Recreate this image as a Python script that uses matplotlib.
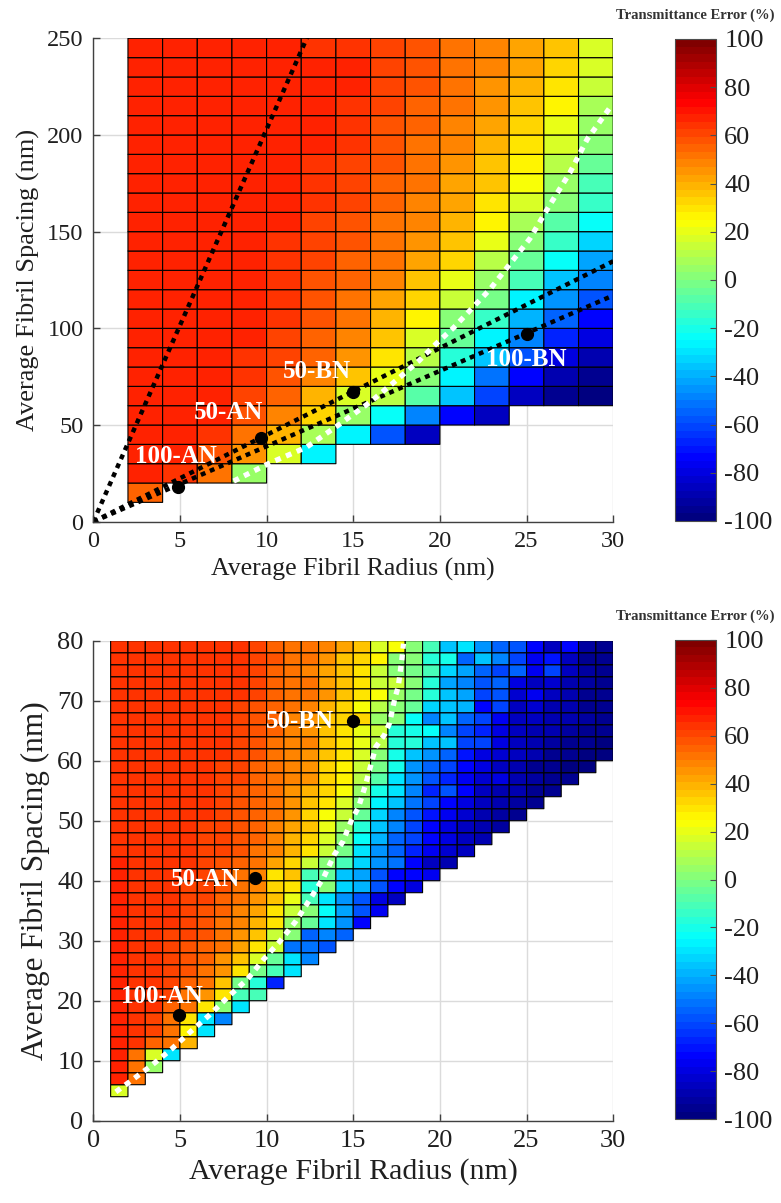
import numpy as np
import matplotlib
import matplotlib.pyplot as plt
from matplotlib.colors import LinearSegmentedColormap

matplotlib.use("Agg")
plt.rcParams['font.family'] = ['Liberation Serif', 'DejaVu Serif']
plt.rcParams['axes.unicode_minus'] = False

nan = np.nan

# ---------- Upper panel: coarse grid (radius step 2 nm, spacing step 10 nm) ----------
top_radius = np.arange(2, 30, 2)          # left edge of each cell column
top_spacing = np.arange(10, 250, 10)      # lower edge of each cell row
# transmittance error (%), one list per spacing row from 10 nm upward
top_error = [
    [56],
    [68, 64, 50, 6],
    [68, 67, 57, 44, 17, -27],
    [68, 67, 63, 50, 38, 7, -27, -59, -85],
    [68, 68, 66, 57, 47, 32, 6, -25, -47, -75, -87],
    [68, 68, 67, 61, 55, 40, 17, 11, -9, -37, -62, -87, -94, -97],
    [68, 68, 67, 64, 57, 48, 36, 20, 3, -28, -52, -74, -88, -94],
    [68, 68, 67, 65, 60, 54, 44, 31, 11, -16, -36, -58, -79, -90],
    [68, 68, 67, 66, 62, 56, 47, 35, 17, -5, -26, -47, -66, -81],
    [68, 68, 68, 66, 63, 57, 51, 40, 25, 3, -14, -40, -56, -72],
    [68, 68, 68, 67, 64, 59, 52, 43, 32, 15, -2, -27, -44, -59],
    [68, 68, 68, 67, 64, 59, 55, 47, 37, 21, 5, -12, -35, -48],
    [68, 68, 68, 67, 65, 60, 56, 50, 41, 32, 12, -4, -25, -42],
    [68, 68, 68, 67, 65, 61, 57, 51, 44, 36, 20, 3, -15, -33],
    [68, 68, 68, 68, 66, 62, 59, 53, 47, 39, 25, 9, -9, -22],
    [68, 68, 68, 68, 66, 64, 61, 54, 48, 42, 31, 16, 0, -15],
    [68, 68, 68, 68, 66, 64, 61, 56, 50, 43, 36, 22, 6, -10],
    [68, 68, 68, 68, 67, 64, 62, 57, 51, 45, 37, 26, 12, -4],
    [68, 68, 68, 68, 67, 66, 63, 59, 53, 47, 40, 31, 16, 2],
    [68, 68, 68, 68, 67, 66, 64, 59, 54, 48, 42, 34, 21, 6],
    [68, 68, 68, 68, 67, 66, 65, 61, 56, 50, 44, 36, 25, 9],
    [68, 68, 68, 68, 67, 66, 66, 62, 57, 51, 45, 39, 30, 13],
    [68, 68, 68, 68, 67, 66, 66, 62, 58, 53, 47, 41, 33, 16],
    [68, 68, 68, 68, 67, 65, 65, 61, 58, 52, 47, 42, 36, 18],
]

# ---------- Lower panel: fine grid (radius step 1 nm, spacing step 2 nm) ----------
bot_radius = np.arange(1, 30, 1)
bot_spacing = np.arange(4, 80, 2)
bot_error = [
    [17],
    [66, 53],
    [66, 53, 6],
    [66, 53, 17, -30],
    [66, 64, 56, 50, 40],
    [66, 65, 62, 50, 25, -31],
    [66, 65, 62, 50, 31, -30, -47],
    [66, 65, 64, 56, 50, 31, 0, -30],
    [66, 65, 64, 60, 50, 44, 31, -12, -12],
    [66, 65, 64, 62, 56, 50, 37, -3, -16, -66],
    [66, 65, 64, 62, 57, 53, 44, 31, -3, -12, -30],
    [66, 65, 64, 62, 58, 55, 46, 37, 16, -6, -31, -47],
    [66, 65, 64, 62, 59, 56, 50, 42, 31, 13, -53, -53, -59],
    [66, 65, 64, 62, 60, 57, 52, 45, 36, 14, 3, -56, -50, -56],
    [66, 65, 64, 63, 61, 58, 53, 47, 40, 31, 6, -6, -31, -44, -75],
    [66, 65, 64, 63, 62, 59, 55, 49, 43, 30, 14, 0, -25, -42, -59, -78],
    [66, 65, 64, 63, 62, 60, 56, 51, 44, 36, 19, -12, -29, -45, -58, -81, -87],
    [66, 65, 64, 64, 62, 60, 57, 52, 48, 33, 31, -16, 2, -33, -40, -57, -75, -81],
    [66, 65, 64, 64, 63, 61, 58, 53, 48, 31, 36, -10, -5, -36, -41, -58, -75, -72, -76],
    [66, 65, 64, 64, 63, 61, 59, 55, 50, 42, 34, 13, 3, -12, -34, -44, -53, -75, -86, -90],
    [65, 65, 64, 64, 63, 62, 60, 57, 53, 47, 38, 31, 13, -3, -30, -44, -56, -66, -78, -84, -87],
    [65, 65, 65, 64, 63, 62, 60, 58, 54, 48, 40, 33, 16, 0, -25, -40, -56, -62, -75, -81, -87, -90],
    [65, 65, 65, 64, 63, 62, 61, 58, 54, 49, 42, 36, 20, 6, -16, -37, -50, -62, -72, -81, -86, -90, -92],
    [65, 65, 65, 64, 64, 63, 61, 59, 55, 50, 44, 34, 22, 13, -6, -34, -47, -59, -69, -78, -84, -89, -92, -94],
    [65, 65, 65, 64, 64, 63, 62, 59, 55, 50, 45, 37, 31, 17, 0, -28, -37, -53, -62, -75, -81, -86, -90, -92,
     -94],
    [65, 65, 65, 65, 64, 63, 62, 59, 56, 51, 46, 40, 33, 22, 6, -19, -31, -47, -66, -59, -75, -87, -89, -90,
     -94, -95],
    [65, 65, 65, 65, 64, 63, 62, 60, 56, 52, 47, 44, 34, 27, 10, -9, -31, -44, -59, -66, -78, -84, -81, -90,
     -92, -94, -95],
    [65, 65, 65, 65, 64, 63, 62, 60, 56, 52, 48, 44, 34, 28, 13, -3, -19, -44, -56, -62, -75, -81, -87, -90,
     -94, -95, -97, -98],
    [65, 65, 65, 65, 64, 63, 63, 60, 57, 53, 48, 44, 37, 31, 17, 3, -19, -37, -44, -56, -69, -81, -84, -87,
     -90, -94, -95, -97, -98],
    [65, 65, 65, 65, 64, 64, 63, 61, 57, 53, 49, 47, 37, 31, 19, 10, -16, -16, -36, -36, -62, -62, -81, -87,
     -89, -92, -94, -95, -97],
    [65, 65, 65, 65, 64, 64, 63, 61, 58, 54, 49, 44, 37, 31, 19, 14, -16, -19, -25, -50, -62, -66, -81, -87,
     -89, -90, -92, -94, -95],
    [65, 65, 65, 65, 64, 64, 63, 62, 58, 54, 49, 44, 37, 33, 34, 6, 0, -25, -47, -36, -56, -62, -78, -87,
     -87, -90, -90, -92, -95],
    [65, 65, 65, 65, 64, 64, 63, 62, 59, 55, 51, 47, 40, 34, 22, 10, 0, -6, -34, -37, -40, -75, -62, -87,
     -84, -90, -90, -94, -95],
    [65, 65, 65, 65, 65, 64, 64, 63, 60, 56, 53, 53, 44, 37, 31, 22, 6, -3, -16, -37, -42, -62, -59, -84,
     -78, -87, -90, -94, -95],
    [65, 65, 65, 65, 65, 64, 64, 63, 60, 56, 53, 51, 42, 36, 31, 13, 13, 3, -16, -42, -47, -59, -56, -81,
     -87, -84, -90, -92, -94],
    [65, 65, 65, 65, 65, 64, 64, 63, 60, 56, 52, 48, 42, 36, 31, 14, 3, -3, -12, -33, -42, -56, -62, -56,
     -78, -62, -87, -92, -94],
    [65, 65, 65, 65, 64, 64, 64, 63, 61, 57, 53, 50, 44, 37, 33, 25, 3, 3, -16, -19, -56, -37, -50, -62,
     -78, -69, -87, -94, -95],
    [65, 65, 65, 65, 64, 64, 64, 63, 61, 56, 53, 50, 47, 42, 36, 17, 22, 3, -12, -36, -31, -44, -56, -59,
     -75, -86, -72, -92, -95],
]

# sample points and labels
top_samples = ['100-AN', '50-AN', '50-BN', '100-BN']
top_sample_r = [4.9, 9.7, 15.0, 25.0]
top_sample_s = [18.1, 43.5, 67.3, 97.3]
bot_samples = ['100-AN', '50-AN', '50-BN']
bot_sample_r = [4.95, 9.33, 15.0]
bot_sample_s = [17.7, 40.4, 66.7]

# spacing/radius ratios of the straight guide lines through the origin
top_ratio_lines = [20.3, 4.49, 3.9]

# zero-error boundaries
top_zero_r = [8.1, 10.1, 12.3, 14.1, 16.0, 17.6, 18.8, 19.8, 20.8, 21.9, 22.9, 24.2, 25.2, 26.3,
              27.5, 28.5, 29.8]
top_zero_s = [21, 30, 38.5, 49.7, 62, 74, 83.3, 92.2, 100.4, 110.8, 120.3, 135.1, 146.5, 163.2,
              180.5, 197.8, 214]
bot_zero_r = [1.3, 2.2, 3.4, 4.5, 5.6, 6.7, 7.8, 8.9, 9.8, 10.8, 11.7, 12.5, 13.3, 13.9, 14.4,
              14.9, 15.3, 15.7, 16.3, 16.8, 17.1, 17.4, 17.6, 17.8, 17.9]
bot_zero_s = [4.8, 6.7, 9.3, 11.9, 14.8, 17.6, 20.7, 23.6, 26.8, 30.0, 33.3, 36.9, 40.6, 44.3, 46.5,
              50.1, 52.2, 55.9, 62.3, 64.3, 66.3, 70.4, 72.4, 76.8, 79.5]


def _matlab_jet(n=64):
    """Classic MATLAB jet (green peak spans 3/8..5/8), sampled to n levels."""
    seg = {
        'red':   [(0.0, 0, 0), (0.375, 0, 0), (0.625, 1, 1), (0.875, 1, 1), (1.0, 0.5, 0.5)],
        'green': [(0.0, 0, 0), (0.125, 0, 0), (0.375, 1, 1), (0.625, 1, 1), (0.875, 0, 0), (1.0, 0, 0)],
        'blue':  [(0.0, 0.5, 0.5), (0.125, 1, 1), (0.375, 1, 1), (0.625, 0, 0), (1.0, 0, 0)],
    }
    return LinearSegmentedColormap('mjet', seg, N=n)


def _to_grid(rows, ncols):
    """Pad ragged rows with NaN and mask the empty cells."""
    grid = np.full((len(rows), ncols), np.nan)
    for i, row in enumerate(rows):
        grid[i, :len(row)] = row
    return np.ma.masked_invalid(grid)


def _edges(lo, step):
    return np.append(lo, lo[-1] + step)


def _style_axes(ax, xlim, ylim, xticks, yticks, tick_fs, xlabel_fs, ylabel_fs):
    ax.set_xlim(*xlim)
    ax.set_ylim(*ylim)
    ax.set_xticks(xticks)
    ax.set_yticks(yticks)
    ax.grid(True, color='0.86', lw=1.0)
    ax.set_axisbelow(True)
    for side in ('top', 'right'):
        ax.spines[side].set_visible(False)
    for side in ('left', 'bottom'):
        ax.spines[side].set_color('0.25')
        ax.spines[side].set_linewidth(1.0)
    ax.tick_params(direction='in', length=5, width=1, color='0.25', labelsize=tick_fs,
                   labelcolor='0.12', pad=7)
    ax.set_xlabel('Average Fibril Radius (nm)', fontsize=xlabel_fs, color='0.12', labelpad=4)
    ax.set_ylabel('Average Fibril Spacing (nm)', fontsize=ylabel_fs, color='0.12', labelpad=5)


def _colorbar(fig, mesh, rect, tick_fs):
    cax = fig.add_axes(rect)
    cb = fig.colorbar(mesh, cax=cax, ticks=np.arange(-100, 101, 20))
    cb.outline.set_edgecolor('0.3')
    cb.outline.set_linewidth(0.8)
    cax.tick_params(direction='in', length=4, color='0.3', labelsize=tick_fs, labelcolor='0.12', pad=6)
    cax.text(0.5, 1.035, 'Transmittance Error (%)', transform=cax.transAxes, ha='center',
             va='bottom', fontsize=10.5, fontweight='bold', color='0.2')
    return cb


cmap = _matlab_jet(64)
W, H = 781, 1203
fig = plt.figure(figsize=(W / 100, H / 100), dpi=100)

# ---------- upper panel ----------
ax1 = fig.add_axes([93.3 / W, 1 - 521.7 / H, 519.9 / W, 483.4 / H])
mesh1 = ax1.pcolor(_edges(top_radius, 2), _edges(top_spacing, 10),
                   _to_grid(top_error, len(top_radius)), cmap=cmap, vmin=-100, vmax=100,
                   edgecolors='k', linewidth=0.8)
_style_axes(ax1, (0, 30), (0, 250), np.arange(0, 31, 5), np.arange(0, 251, 50), 17.5, 18.5, 19)

r_line = np.linspace(0, 30, 200)
for ratio in top_ratio_lines:
    ax1.plot(r_line, ratio * r_line, color='k', lw=3.2, ls=(0, (1.1, 1.1)))
ax1.plot(top_zero_r, top_zero_s, color='white', lw=3.8, ls=(0, (1.1, 1.1)))
ax1.plot(top_sample_r, top_sample_s, 'o', color='k', ms=8.5)

top_label_pos = [(4.74, 33.5), (7.8, 56.4), (12.9, 77.6), (24.98, 84.0)]
for name, (lx, ly) in zip(top_samples, top_label_pos):
    ax1.text(lx, ly, name, ha='center', va='center', color='white', fontweight='bold',
             fontsize=18)

_colorbar(fig, mesh1, [675 / W, 1 - 521.0 / H, 41 / W, 482 / H], 19)

# ---------- lower panel ----------
ax2 = fig.add_axes([93.3 / W, 1 - 1120.7 / H, 519.9 / W, 480.0 / H])
mesh2 = ax2.pcolor(_edges(bot_radius, 1), _edges(bot_spacing, 2),
                   _to_grid(bot_error, len(bot_radius)), cmap=cmap, vmin=-100, vmax=100,
                   edgecolors='k', linewidth=0.8)
_style_axes(ax2, (0, 30), (0, 80), np.arange(0, 31, 5), np.arange(0, 81, 10), 19, 21.5, 22.5)

ax2.plot(bot_zero_r, bot_zero_s, color='white', lw=3.8, ls=(0, (1.1, 1.1)))
ax2.plot(bot_sample_r, bot_sample_s, 'o', color='k', ms=8.5)

bot_label_pos = [(3.95, 20.7), (6.45, 40.2), (11.9, 66.5)]
for name, (lx, ly) in zip(bot_samples, bot_label_pos):
    ax2.text(lx, ly, name, ha='center', va='center', color='white', fontweight='bold',
             fontsize=18)

_colorbar(fig, mesh2, [675 / W, 1 - 1119.0 / H, 41 / W, 479 / H], 19)

fig.savefig('out.png', dpi=100)
